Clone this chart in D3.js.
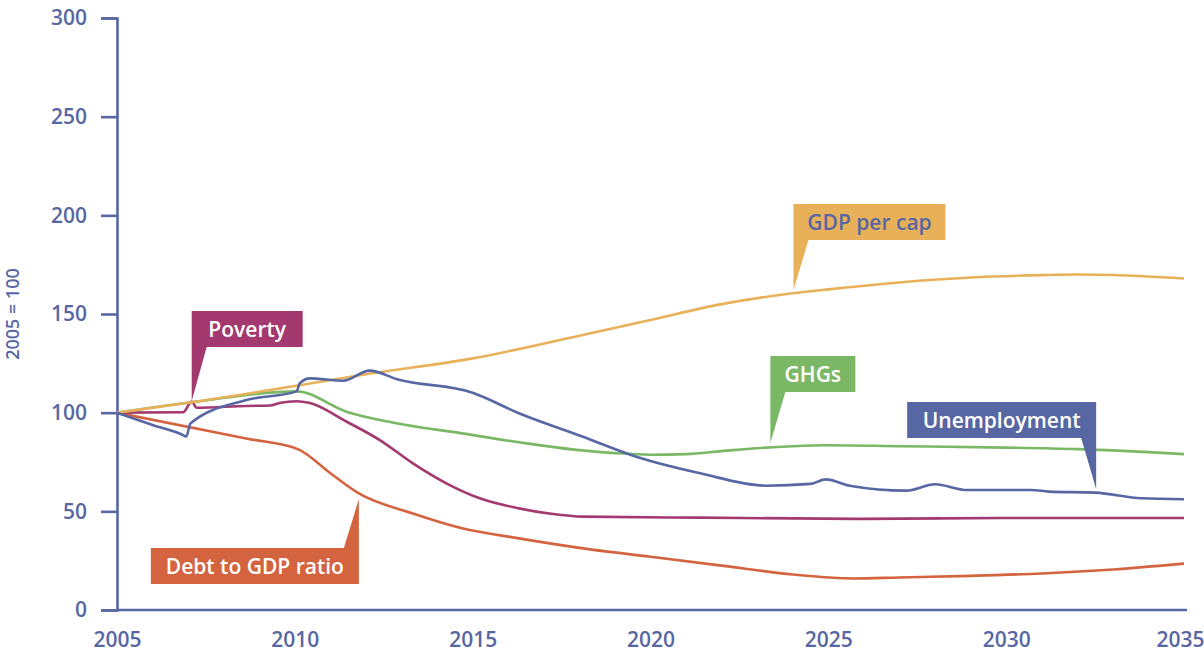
<!DOCTYPE html>
<html>
<head>
<meta charset="utf-8">
<script src="https://cdn.jsdelivr.net/npm/d3@7"></script>
<style>
  body { margin: 0; background: #fff; }
  svg text { font-family: "Open Sans", "Noto Sans", sans-serif; }
</style>
</head>
<body>
<div id="chart"></div>
<script>
// series, index 2005 = 100
var gdpYears = [2005, 2007, 2010, 2012, 2015, 2018, 2020, 2022, 2024, 2025, 2027, 2029, 2031, 2032, 2033, 2035];
var gdpVals  = [100, 105, 113.5, 119.5, 127.5, 139, 147, 155, 160.5, 162.5, 166, 168.5, 169.7, 170, 169.8, 168];

var ghgYears = [2005, 2007, 2010.05, 2011.45, 2012.86, 2014.7, 2016.3, 2018, 2019, 2020, 2021, 2022, 2023, 2024, 2025, 2027, 2030, 2032, 2034, 2035];
var ghgVals  = [100, 105, 110.8, 100.5, 94.6, 89.5, 85, 81, 79.5, 78.7, 79, 80.5, 82, 83, 83.5, 83, 82.3, 81.5, 80, 79];

var unempYears = [2005, 2006, 2006.9, 2006.94, 2007.07, 2008.64, 2010.05, 2010.14, 2010.42, 2011.36, 2012.1, 2012.9, 2015, 2016.3, 2018.1, 2019.6, 2021.4, 2023.25, 2024.5, 2024.93, 2025.6, 2027.2, 2028, 2028.9, 2030.7, 2031.2, 2032.5, 2033.8, 2035];
var unempVals  = [100, 93.7, 88.2, 87.8, 94.6, 106.4, 110.8, 114.9, 117.4, 116.2, 121.3, 116.8, 110.1, 99.7, 87.8, 77.7, 69.3, 63, 63.9, 66.2, 63, 60.5, 63.7, 60.8, 60.8, 60, 59.5, 56.6, 56.1];

var povYears = [2005, 2006.86, 2007.1, 2007.24, 2008.64, 2009.3, 2009.6, 2010.05, 2010.4, 2011.46, 2012.39, 2013.32, 2014.26, 2015.2, 2016.3, 2017.2, 2018.1, 2021.4, 2026, 2030, 2035];
var povVals  = [100, 100.2, 105.6, 102.5, 103.4, 103.6, 105, 105.8, 105, 95.4, 86.1, 74.3, 64.2, 56.6, 51.5, 48.8, 47.3, 46.8, 46.2, 46.6, 46.6];

var debtYears = [2005, 2008.7, 2010.1, 2011, 2011.8, 2013.3, 2014.7, 2016.3, 2018, 2020, 2022, 2024, 2025, 2025.7, 2027, 2029, 2031, 2033, 2035];
var debtVals  = [100, 86.7, 81.4, 69.3, 59.1, 49, 41.4, 36.3, 31.5, 27, 22.5, 18, 16.5, 16, 16.5, 17.3, 18.5, 20.5, 23.5];

var yTicks = [0, 50, 100, 150, 200, 250, 300];
var xTicks = [2005, 2010, 2015, 2020, 2025, 2030, 2035];

// callout labels: name, tip position (year, value)
var calloutNames = ["GDP per cap", "Poverty", "GHGs", "Unemployment", "Debt to GDP ratio"];
var calloutTipYears = [2024.02, 2007.1, 2023.37, 2032.53, 2011.8];
var calloutTipVals  = [162.2, 105.9, 84.6, 61.3, 56.2];

var width = 1204, height = 657;
var axisColor = "#5767a4";

var svg = d3.select("#chart").append("svg")
    .attr("width", width)
    .attr("height", height);

var x = d3.scaleLinear().domain([2005, 2035]).range([117, 1184]);
var y = d3.scaleLinear().domain([0, 300]).range([610, 18]);

// y axis
var yAxis = svg.append("g")
    .attr("transform", "translate(117,0)")
    .call(d3.axisLeft(y).tickValues(yTicks).tickSize(16).tickPadding(14).tickFormat(d3.format("d")));
yAxis.selectAll("path, line").attr("stroke", axisColor).attr("stroke-width", 2.6);
yAxis.selectAll("text").attr("fill", axisColor).style("font-size", "21px").style("font-weight", 600);

// x axis, no tick marks
var xAxis = svg.append("g")
    .attr("transform", "translate(0,610)")
    .call(d3.axisBottom(x).tickValues(xTicks).tickSize(0).tickPadding(22).tickFormat(d3.format("d")));
xAxis.select("path").attr("stroke", axisColor).attr("stroke-width", 2.6)
    .attr("d", "M" + x(2005) + ",0H" + (x(2035) + 3));
xAxis.selectAll("text").attr("fill", axisColor).style("font-size", "21px").style("font-weight", 600)
    .filter(function(d) { return d === 2035; }).attr("dx", -4);

svg.append("text")
    .attr("transform", "translate(19," + y(150) + ") rotate(-90)")
    .attr("text-anchor", "middle")
    .attr("fill", axisColor)
    .style("font-size", "18px").style("font-weight", 600)
    .text("2005 = 100");

function zipSeries(years, vals) {
  return years.map(function(d, i) { return { year: d, value: vals[i] }; });
}

var series = [
  { name: "Debt to GDP ratio", color: "#d4633f", data: zipSeries(debtYears, debtVals) },
  { name: "Poverty", color: "#a3396f", data: zipSeries(povYears, povVals) },
  { name: "GHGs", color: "#7ab866", data: zipSeries(ghgYears, ghgVals) },
  { name: "GDP per cap", color: "#e9b05a", data: zipSeries(gdpYears, gdpVals) },
  { name: "Unemployment", color: "#5767a4", data: zipSeries(unempYears, unempVals) }
];

var line = d3.line()
    .x(function(d) { return x(d.year); })
    .y(function(d) { return y(d.value); })
    .curve(d3.curveMonotoneX);

svg.selectAll("path.series")
    .data(series)
    .enter().append("path")
    .attr("class", "series")
    .attr("fill", "none")
    .attr("stroke", function(d) { return d.color; })
    .attr("stroke-width", 2.6)
    .attr("stroke-linejoin", "round")
    .attr("d", function(d) { return line(d.data); });

// callouts
var boxStyle = {
  "GDP per cap":       { fill: "#e9b05a", text: "#5767a4", side: "left",  up: true,  h: 50, w: 152 },
  "Poverty":           { fill: "#a3396f", text: "#fff",    side: "left",  up: true,  h: 54, w: 111 },
  "GHGs":              { fill: "#7ab866", text: "#fff",    side: "left",  up: true,  h: 51, w: 85 },
  "Unemployment":      { fill: "#5767a4", text: "#fff",    side: "right", up: true,  h: 51, w: 189 },
  "Debt to GDP ratio": { fill: "#d4633f", text: "#fff",    side: "right", up: false, h: 49, w: 208 }
};

calloutNames.forEach(function(name, i) {
  var s = boxStyle[name];
  var tx = x(calloutTipYears[i]), ty = y(calloutTipVals[i]);
  var bh = 36, pw = 15;
  var x0 = s.side === "left" ? tx : tx - s.w;
  var x1 = x0 + s.w;
  var g = svg.append("g");
  var p, top;
  if (s.up) {
    var by = ty - s.h;             // bottom of box
    top = by - bh;
    p = s.side === "left"
      ? ["M", x0, top, "H", x1, "V", by, "H", x0 + pw, "L", tx, ty, "L", x0, by, "Z"]
      : ["M", x0, top, "H", x1, "V", by, "L", tx, ty, "L", x1 - pw, by, "H", x0, "Z"];
  } else {
    top = ty + s.h;                // top of box
    p = ["M", x0, top, "H", x1 - pw, "L", tx, ty, "L", x1, top, "V", top + bh, "H", x0, "Z"];
  }
  g.append("path").attr("d", p.join(" ")).attr("fill", s.fill);
  g.append("text").attr("x", (x0 + x1) / 2).attr("y", top + 26)
    .attr("text-anchor", "middle").attr("fill", s.text)
    .style("font-size", "21px").style("font-weight", 600).text(name);
});
</script>
</body>
</html>
